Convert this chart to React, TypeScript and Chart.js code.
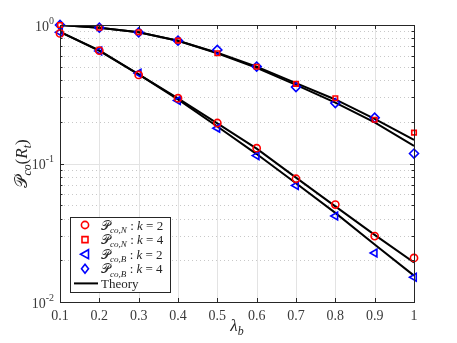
import React, { useEffect, useRef } from "react";
import { Chart, registerables } from "chart.js";

Chart.register(...registerables);

const lambdaB = [0.1, 0.2, 0.3, 0.4, 0.5, 0.6, 0.7, 0.8, 0.9, 1.0];
const simN2 = [0.87, 0.653, 0.436, 0.296, 0.196, 0.129, 0.0776, 0.0505, 0.0299, 0.0208];
const simN4 = [1.0, 0.956, 0.886, 0.771, 0.625, 0.5, 0.376, 0.296, 0.207, 0.167];
const simB2 = [0.886, 0.65, 0.448, 0.285, 0.18, 0.114, 0.0694, 0.0418, 0.0226, 0.0151];
const simB4 = [1.0, 0.956, 0.886, 0.771, 0.661, 0.501, 0.356, 0.273, 0.214, 0.118];
const thN2 = [0.89, 0.655, 0.44, 0.295, 0.195, 0.128, 0.079, 0.049, 0.0305, 0.0193];
const thB2 = [0.89, 0.65, 0.44, 0.29, 0.185, 0.117, 0.072, 0.044, 0.026, 0.0155];
const thN4 = [1.0, 0.955, 0.885, 0.77, 0.63, 0.5, 0.38, 0.29, 0.21, 0.148];
const thB4 = [1.0, 0.955, 0.885, 0.77, 0.625, 0.49, 0.37, 0.275, 0.198, 0.134];
const xTicks = [0.1, 0.2, 0.3, 0.4, 0.5, 0.6, 0.7, 0.8, 0.9, 1];
const xTickLabels = ["0.1", "0.2", "0.3", "0.4", "0.5", "0.6", "0.7", "0.8", "0.9", "1"];
const yDecades = [0.01, 0.1, 1];
const yDecadeExp = ["-2", "-1", "0"];

const SERIF = "'Liberation Serif', 'DejaVu Serif', 'DejaVu Sans', serif";

type Run = { t: string; it?: boolean; sub?: boolean };

function drawRuns(ctx: CanvasRenderingContext2D, runs: Run[], x: number, y: number, size: number) {
  let cx = x;
  for (const r of runs) {
    const fs = r.sub ? size * 0.7 : size;
    ctx.font = `${r.it ? "italic " : ""}${fs}px ${SERIF}`;
    ctx.textBaseline = "alphabetic";
    ctx.textAlign = "left";
    const dy = r.sub ? size * 0.25 : 0;
    ctx.fillText(r.t, cx, y + dy);
    cx += ctx.measureText(r.t).width;
  }
  return cx - x;
}

function measureRuns(ctx: CanvasRenderingContext2D, runs: Run[], size: number) {
  let w = 0;
  for (const r of runs) {
    const fs = r.sub ? size * 0.7 : size;
    ctx.font = `${r.it ? "italic " : ""}${fs}px ${SERIF}`;
    w += ctx.measureText(r.t).width;
  }
  return w;
}

const legendItems = [
  { label: "N", k: "2", kind: "circle", color: "#ff0000" },
  { label: "N", k: "4", kind: "rect", color: "#ff0000" },
  { label: "B", k: "2", kind: "tri", color: "#0000ff" },
  { label: "B", k: "4", kind: "diamond", color: "#0000ff" },
  { label: "", k: "", kind: "line", color: "#000000" },
];

function drawMarker(ctx: CanvasRenderingContext2D, kind: string, x: number, y: number, color: string) {
  ctx.save();
  ctx.strokeStyle = color;
  ctx.lineWidth = 1.6;
  ctx.beginPath();
  if (kind === "circle") {
    ctx.arc(x, y, 3.6, 0, Math.PI * 2);
  } else if (kind === "rect") {
    ctx.rect(x - 3, y - 3, 6, 6);
  } else if (kind === "tri") {
    ctx.moveTo(x - 4.5, y);
    ctx.lineTo(x + 3.5, y - 4.5);
    ctx.lineTo(x + 3.5, y + 4.5);
    ctx.closePath();
  } else if (kind === "diamond") {
    ctx.moveTo(x, y - 4.5);
    ctx.lineTo(x + 3.5, y);
    ctx.lineTo(x, y + 4.5);
    ctx.lineTo(x - 3.5, y);
    ctx.closePath();
  }
  ctx.stroke();
  ctx.restore();
}

const gridPlugin = {
  id: "matlabGrid",
  beforeDatasetsDraw(chart: any) {
    const { ctx, chartArea: a, scales } = chart;
    const xs = scales.x;
    const ys = scales.y;
    ctx.save();
    ctx.lineWidth = 1;
    // vertical grid
    ctx.strokeStyle = "#e3e3e3";
    for (const v of xTicks) {
      const px = Math.round(xs.getPixelForValue(v)) + 0.5;
      ctx.beginPath();
      ctx.moveTo(px, a.top);
      ctx.lineTo(px, a.bottom);
      ctx.stroke();
    }
    // horizontal majors
    for (const v of yDecades) {
      const py = Math.round(ys.getPixelForValue(v)) + 0.5;
      ctx.beginPath();
      ctx.moveTo(a.left, py);
      ctx.lineTo(a.right, py);
      ctx.stroke();
    }
    // minors dotted
    ctx.strokeStyle = "#c8c8c8";
    ctx.setLineDash([1, 3]);
    for (const d of [0.01, 0.1]) {
      for (let m = 2; m <= 9; m++) {
        const py = Math.round(ys.getPixelForValue(d * m)) + 0.5;
        ctx.beginPath();
        ctx.moveTo(a.left, py);
        ctx.lineTo(a.right, py);
        ctx.stroke();
      }
    }
    ctx.restore();
  },
  afterDraw(chart: any) {
    const { ctx, chartArea: a, scales } = chart;
    const xs = scales.x;
    const ys = scales.y;
    ctx.save();
    // box
    ctx.strokeStyle = "#262626";
    ctx.lineWidth = 1;
    ctx.strokeRect(Math.round(a.left) + 0.5, Math.round(a.top) + 0.5, Math.round(a.right - a.left), Math.round(a.bottom - a.top));
    // x ticks
    for (const v of xTicks) {
      const px = Math.round(xs.getPixelForValue(v)) + 0.5;
      ctx.beginPath();
      ctx.moveTo(px, a.bottom);
      ctx.lineTo(px, a.bottom - 4);
      ctx.moveTo(px, a.top);
      ctx.lineTo(px, a.top + 4);
      ctx.stroke();
    }
    // y ticks
    for (const v of yDecades) {
      const py = Math.round(ys.getPixelForValue(v)) + 0.5;
      ctx.beginPath();
      ctx.moveTo(a.left, py);
      ctx.lineTo(a.left + 4, py);
      ctx.moveTo(a.right, py);
      ctx.lineTo(a.right - 4, py);
      ctx.stroke();
    }
    for (const d of [0.01, 0.1]) {
      for (let m = 2; m <= 9; m++) {
        const py = Math.round(ys.getPixelForValue(d * m)) + 0.5;
        ctx.beginPath();
        ctx.moveTo(a.left, py);
        ctx.lineTo(a.left + 2.5, py);
        ctx.moveTo(a.right, py);
        ctx.lineTo(a.right - 2.5, py);
        ctx.stroke();
      }
    }
    // x tick labels
    ctx.fillStyle = "#3a3a3a";
    ctx.font = `14px ${SERIF}`;
    ctx.textAlign = "center";
    ctx.textBaseline = "top";
    xTicks.forEach((v, i) => {
      ctx.fillText(xTickLabels[i], xs.getPixelForValue(v), a.bottom + 7);
    });
    // y tick labels 10^n
    yDecades.forEach((v, i) => {
      const py = ys.getPixelForValue(v);
      ctx.font = `10px ${SERIF}`;
      const ew = ctx.measureText(yDecadeExp[i]).width;
      ctx.font = `14px ${SERIF}`;
      const bw = ctx.measureText("10").width;
      const right = a.left - 6;
      ctx.textAlign = "left";
      ctx.textBaseline = "middle";
      ctx.fillText("10", right - ew - bw, py + 2);
      ctx.font = `10px ${SERIF}`;
      ctx.fillText(yDecadeExp[i], right - ew, py - 4);
    });
    // x label
    ctx.fillStyle = "#262626";
    const xl: Run[] = [{ t: "λ", it: true }, { t: "b", it: true, sub: true }];
    const xw = measureRuns(ctx, xl, 17);
    drawRuns(ctx, xl, (a.left + a.right) / 2 - xw / 2, 331, 17);
    // y label
    const yl: Run[] = [
      { t: "𝒫" },
      { t: "co", it: true, sub: true },
      { t: "(" },
      { t: "R", it: true },
      { t: "t", it: true, sub: true },
      { t: ")" },
    ];
    ctx.save();
    ctx.translate(27, (a.top + a.bottom) / 2);
    ctx.rotate(-Math.PI / 2);
    const yw = measureRuns(ctx, yl, 17);
    drawRuns(ctx, yl, -yw / 2, 0, 17);
    ctx.restore();
    // legend
    const lx = 70, ly = 217, lw = 100, lh = 75;
    ctx.fillStyle = "#ffffff";
    ctx.fillRect(lx, ly, lw, lh);
    ctx.strokeStyle = "#262626";
    ctx.lineWidth = 1;
    ctx.strokeRect(lx + 0.5, ly + 0.5, lw, lh);
    legendItems.forEach((it, i) => {
      const cy = ly + 8 + i * 14.6;
      if (it.kind === "line") {
        ctx.strokeStyle = "#000";
        ctx.lineWidth = 2;
        ctx.beginPath();
        ctx.moveTo(lx + 4, cy);
        ctx.lineTo(lx + 28, cy);
        ctx.stroke();
        ctx.fillStyle = "#262626";
        drawRuns(ctx, [{ t: "Theory" }], lx + 31, cy + 4.5, 13);
      } else {
        drawMarker(ctx, it.kind, lx + 15, cy, it.color);
        ctx.fillStyle = "#262626";
        const runs: Run[] = [
          { t: "𝒫" },
          { t: "co," + it.label, it: true, sub: true },
          { t: " : " },
          { t: "k", it: true },
          { t: " = " + it.k },
        ];
        drawRuns(ctx, runs, lx + 31, cy + 4.5, 13);
      }
    });
    ctx.restore();
  },
};

export default function App() {
  const ref = useRef<HTMLCanvasElement | null>(null);
  useEffect(() => {
    if (!ref.current) return;
    const mk = (data: number[], color: string, style: string, radius: number, rotation = 0) => ({
      data: lambdaB.map((x, i) => ({ x, y: data[i] })),
      showLine: false,
      borderColor: color,
      backgroundColor: "rgba(0,0,0,0)",
      pointStyle: style,
      pointRadius: radius,
      pointBorderWidth: 1.6,
      pointRotation: rotation,
      clip: false as any,
      order: 0,
    });
    const ln = (data: number[]) => ({
      data: lambdaB.map((x, i) => ({ x, y: data[i] })),
      showLine: true,
      borderColor: "#000000",
      borderWidth: 2,
      pointRadius: 0,
      tension: 0,
      order: 1,
    });
    const chart = new Chart(ref.current, {
      type: "scatter",
      data: {
        datasets: [
          ln(thN2),
          ln(thB2),
          ln(thN4),
          ln(thB4),
          mk(simN2, "#ff0000", "circle", 3.6),
          mk(simN4, "#ff0000", "rect", 3.2),
          mk(simB2, "#0000ff", "triangle", 4.5, -90),
          mk(simB4, "#0000ff", "rectRot", 4.5),
        ] as any,
      },
      options: {
        animation: false,
        responsive: true,
        maintainAspectRatio: false,
        layout: { padding: { left: 60, top: 25, right: 43, bottom: 41 } },
        plugins: { legend: { display: false }, tooltip: { enabled: false } },
        scales: {
          x: { type: "linear", min: 0.1, max: 1, display: false },
          y: { type: "logarithmic", min: 0.01, max: 1, display: false },
        },
      },
      plugins: [gridPlugin],
    });
    return () => chart.destroy();
  }, []);
  return (
    <div style={{ position: "fixed", left: 0, top: 0, width: 457, height: 343, background: "#fff" }}>
      <canvas ref={ref} />
    </div>
  );
}
